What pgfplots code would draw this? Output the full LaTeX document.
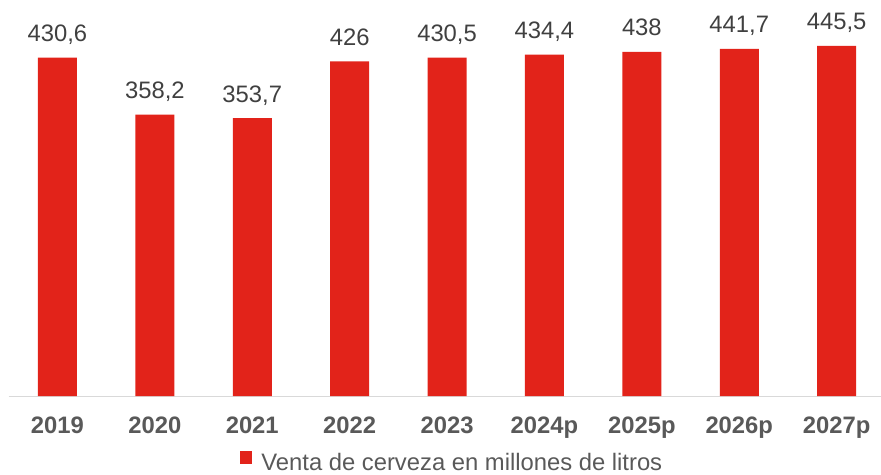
\documentclass[border=0pt]{standalone}
\usepackage{fontspec}
\setmainfont{Liberation Sans}
\usepackage{pgfplots}
\pgfplotsset{compat=1.18}
\definecolor{barred}{HTML}{E2231A}
\definecolor{lbl}{HTML}{404040}
\definecolor{tck}{HTML}{595959}
\definecolor{base}{HTML}{D9D9D9}
\begin{document}
\begin{tikzpicture}
\useasboundingbox (-8.75pt,-78pt) rectangle (872.25pt,396pt);
\begin{axis}[
  at={(0pt,0pt)}, anchor=south west,
  scale only axis,
  width=876.6pt, height=396pt,
  ybar, bar width=39pt,
  xmin=-0.5, xmax=8.5,
  ymin=0, ymax=504,
  axis y line=none,
  axis x line*=bottom,
  x axis line style={draw=base, line width=1pt, -},
  xtick=data,
  xticklabels={2019,2020,2021,2022,2023,2024p,2025p,2026p,2027p},
  major tick length=0pt,
  xticklabel style={font=\fontsize{23.8}{27}\selectfont\bfseries, text=tck, anchor=base, yshift=-37pt},
  nodes near coords,
  every node near coord/.append style={font=\fontsize{23.8}{27}\selectfont, text=lbl, anchor=base, inner sep=0pt, yshift=16pt},
  /pgf/number format/.cd, use comma, precision=1, assume math mode=true, 1000 sep={},
  /pgfplots/.cd,
  legend style={at={(0.506,-0.197)}, anchor=south, draw=none, fill=none, inner sep=0pt,
    font=\fontsize{23.8}{27}\selectfont, text=tck},
  legend image code/.code={\fill[barred] (0pt,-1.5pt) rectangle (11.5pt,11.5pt); \path (19pt,0pt);},
]
\addplot[fill=barred, draw=none] coordinates {
  (0,430.6) (1,358.2) (2,353.7) (3,426) (4,430.5)
  (5,434.4) (6,438) (7,441.7) (8,445.5)
};
\addlegendentry{Venta de cerveza en millones de litros}
\end{axis}
\end{tikzpicture}
\end{document}
